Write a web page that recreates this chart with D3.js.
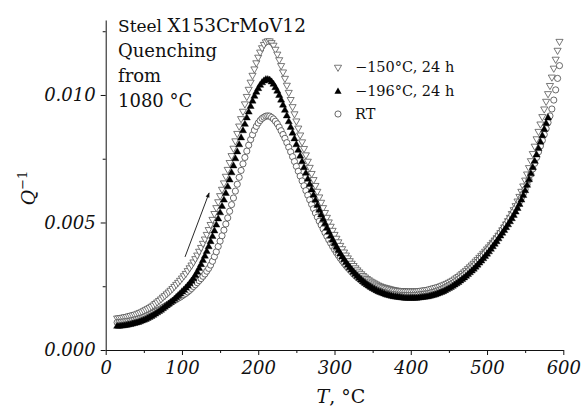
<!DOCTYPE html>
<html><head><meta charset="utf-8">
<script src="https://cdn.jsdelivr.net/npm/d3@7"></script>
<style>
body{margin:0;background:#fff}
svg{display:block}
text{font-family:"DejaVu Serif",serif;fill:#111}
</style>
</head><body>
<svg id="c" width="584" height="408"></svg>
<script>
// Temperature, °C
const temps = [
15,17.5,20,22.5,25,27.5,30,32.5,35,37.5,40,42.5,45,47.5,50,52.5,55,57.5,60,62.5,
65,67.5,70,72.5,75,77.5,80,82.5,85,87.5,90,92.5,95,97.5,100,102.5,105,107.5,110,112.5,
115,117.5,120,122.5,125,127.5,130,132.5,135,137.5,140,142.5,145,147.5,150,152.5,155,157.5,160,162.5,
165,167.5,170,172.5,175,177.5,180,182.5,185,187.5,190,192.5,195,197.5,200,202.5,205,207.5,210,212.5,
215,217.5,220,222.5,225,227.5,230,232.5,235,237.5,240,242.5,245,247.5,250,252.5,255,257.5,260,262.5,
265,267.5,270,272.5,275,277.5,280,282.5,285,287.5,290,292.5,295,297.5,300,302.5,305,307.5,310,312.5,
315,317.5,320,322.5,325,327.5,330,332.5,335,337.5,340,342.5,345,347.5,350,352.5,355,357.5,360,362.5,
365,367.5,370,372.5,375,377.5,380,382.5,385,387.5,390,392.5,395,397.5,400,402.5,405,407.5,410,412.5,
415,417.5,420,422.5,425,427.5,430,432.5,435,437.5,440,442.5,445,447.5,450,452.5,455,457.5,460,462.5,
465,467.5,470,472.5,475,477.5,480,482.5,485,487.5,490,492.5,495,497.5,500,502.5,505,507.5,510,512.5,
515,517.5,520,522.5,525,527.5,530,532.5,535,537.5,540,542.5,545,547.5,550,552.5,555,557.5,560,562.5,
565,567.5,570,572.5,575,577.5,580,582.5,585,587.5,590,592.5,595];

// Q^-1 in units of 10^-3
const q150 = [ // −150°C, 24 h  (open down-triangles)
1.25,1.26,1.27,1.28,1.30,1.31,1.33,1.35,1.37,1.39,1.41,1.44,1.47,1.50,1.54,1.58,1.62,1.66,1.71,1.76,
1.82,1.88,1.94,2.00,2.07,2.13,2.20,2.27,2.34,2.41,2.49,2.57,2.65,2.73,2.82,2.91,3.00,3.11,3.22,3.33,
3.45,3.58,3.72,3.87,4.02,4.18,4.35,4.53,4.72,4.92,5.12,5.35,5.58,5.81,6.05,6.30,6.55,6.81,7.08,7.35,
7.62,7.91,8.20,8.49,8.78,9.07,9.36,9.65,9.94,10.22,10.50,10.77,11.02,11.26,11.48,11.68,11.85,11.98,12.08,12.12,
12.12,12.05,11.95,11.79,11.60,11.38,11.15,10.90,10.65,10.38,10.10,9.82,9.54,9.26,8.98,8.70,8.43,8.16,7.90,7.65,
7.40,7.16,6.92,6.68,6.45,6.22,6.00,5.79,5.58,5.39,5.20,5.02,4.85,4.69,4.53,4.38,4.24,4.10,3.97,3.84,
3.72,3.61,3.50,3.40,3.31,3.22,3.14,3.06,2.99,2.92,2.86,2.80,2.75,2.70,2.66,2.62,2.58,2.54,2.51,2.48,
2.46,2.44,2.42,2.40,2.38,2.36,2.35,2.34,2.33,2.32,2.32,2.31,2.31,2.31,2.31,2.31,2.31,2.31,2.32,2.33,
2.34,2.35,2.36,2.37,2.39,2.41,2.43,2.45,2.47,2.49,2.52,2.55,2.58,2.61,2.65,2.69,2.73,2.78,2.83,2.88,
2.94,3.00,3.06,3.12,3.19,3.26,3.33,3.40,3.48,3.55,3.63,3.71,3.79,3.87,3.96,4.04,4.13,4.22,4.31,4.40,
4.50,4.60,4.71,4.82,4.94,5.07,5.20,5.35,5.50,5.66,5.84,6.02,6.22,6.43,6.66,6.90,7.15,7.42,7.70,7.99,
8.28,8.57,8.86,9.15,9.45,9.75,10.05,10.37,10.70,11.05,11.40,11.75,12.10];

const q196 = [ // −196°C, 24 h  (filled up-triangles)
0.93,0.93,0.94,0.95,0.96,0.97,0.99,1.00,1.02,1.04,1.06,1.08,1.11,1.14,1.17,1.20,1.24,1.28,1.32,1.36,
1.41,1.46,1.51,1.56,1.62,1.68,1.74,1.80,1.86,1.92,1.99,2.06,2.13,2.20,2.28,2.35,2.43,2.51,2.60,2.70,
2.80,2.92,3.05,3.20,3.35,3.51,3.68,3.86,4.05,4.25,4.45,4.67,4.90,5.14,5.38,5.63,5.88,6.14,6.40,6.67,
6.95,7.22,7.50,7.77,8.05,8.32,8.60,8.85,9.10,9.33,9.55,9.76,9.95,10.11,10.25,10.38,10.48,10.55,10.60,10.60,
10.58,10.51,10.42,10.29,10.15,9.98,9.80,9.60,9.40,9.18,8.95,8.73,8.50,8.28,8.05,7.83,7.60,7.38,7.15,6.93,
6.70,6.49,6.28,6.07,5.87,5.67,5.48,5.30,5.12,4.95,4.78,4.62,4.46,4.31,4.17,4.03,3.90,3.77,3.65,3.54,
3.43,3.33,3.23,3.14,3.05,2.97,2.89,2.82,2.75,2.68,2.62,2.56,2.51,2.46,2.41,2.37,2.33,2.29,2.26,2.23,
2.20,2.17,2.15,2.13,2.11,2.09,2.08,2.07,2.06,2.05,2.04,2.03,2.03,2.03,2.03,2.03,2.03,2.03,2.04,2.05,
2.06,2.07,2.08,2.09,2.11,2.13,2.15,2.17,2.20,2.23,2.26,2.29,2.33,2.37,2.41,2.45,2.50,2.55,2.60,2.65,
2.71,2.77,2.83,2.89,2.96,3.03,3.10,3.17,3.25,3.33,3.41,3.49,3.58,3.67,3.76,3.85,3.95,4.05,4.15,4.25,
4.36,4.47,4.58,4.69,4.80,4.91,5.03,5.15,5.28,5.41,5.55,5.71,5.88,6.06,6.25,6.46,6.68,6.91,7.15,7.40,
7.65,7.90,8.15,8.40,8.65,8.88,9.10,null,null,null,null,null,null];

const qRT = [ // RT  (open circles)
1.08,1.08,1.09,1.10,1.11,1.12,1.13,1.14,1.16,1.18,1.20,1.22,1.24,1.26,1.29,1.32,1.35,1.38,1.42,1.46,
1.50,1.54,1.58,1.62,1.67,1.71,1.76,1.80,1.85,1.89,1.94,1.98,2.03,2.07,2.12,2.17,2.22,2.28,2.34,2.41,
2.49,2.56,2.64,2.72,2.80,2.89,2.98,3.09,3.20,3.33,3.48,3.66,3.85,4.06,4.27,4.48,4.70,4.94,5.18,5.44,
5.70,5.96,6.23,6.50,6.77,7.04,7.30,7.55,7.80,8.03,8.25,8.44,8.62,8.77,8.90,9.00,9.08,9.13,9.17,9.18,
9.17,9.12,9.06,8.97,8.87,8.74,8.60,8.45,8.30,8.13,7.95,7.77,7.58,7.39,7.20,7.01,6.82,6.63,6.44,6.25,
6.07,5.89,5.71,5.54,5.37,5.21,5.05,4.90,4.75,4.60,4.46,4.32,4.19,4.06,3.94,3.82,3.71,3.60,3.50,3.40,
3.31,3.22,3.14,3.06,2.98,2.91,2.84,2.78,2.72,2.66,2.61,2.56,2.51,2.47,2.43,2.39,2.36,2.33,2.30,2.27,
2.25,2.23,2.21,2.19,2.18,2.17,2.16,2.15,2.15,2.14,2.14,2.14,2.14,2.14,2.14,2.14,2.15,2.15,2.16,2.17,
2.18,2.19,2.20,2.21,2.23,2.25,2.27,2.29,2.32,2.35,2.38,2.41,2.45,2.49,2.53,2.57,2.62,2.67,2.72,2.77,
2.83,2.89,2.95,3.01,3.08,3.15,3.22,3.29,3.37,3.45,3.53,3.61,3.70,3.79,3.88,3.97,4.07,4.17,4.27,4.37,
4.48,4.59,4.70,4.81,4.93,5.05,5.17,5.29,5.42,5.55,5.68,5.82,5.97,6.13,6.30,6.49,6.68,6.89,7.10,7.32,
7.55,7.77,8.00,8.22,8.45,8.68,8.92,9.18,9.45,9.80,10.20,10.65,11.15];

const xTicks = [0,100,200,300,400,500,600];
const xMinor = [50,150,250,350,450,550];
const yTicks = [0,5,10];          // ×10^-3
const yMinor = [2.5,7.5,12.5];
const yTickLabels = ["0.000","0.005","0.010"];
const seriesNames = ["\u2212150\u00B0C, 24 h","\u2212196\u00B0C, 24 h","RT"];
const titleLines = ["Quenching","from","1080 \u00B0C"];
const arrowFrom = [104, 3.65], arrowTo = [135.6, 6.16]; // data coords (T, Q×10^3)

const svg = d3.select("#c");
svg.append("rect").attr("width",584).attr("height",408).attr("fill","#fff");

const x = d3.scaleLinear().domain([0,600]).range([105.7,563.3]);
const y = d3.scaleLinear().domain([0,12.94]).range([350,20]);

function styleAxis(g){
  g.selectAll("path,line").attr("stroke","#111").attr("stroke-width",1);
  g.selectAll("text").attr("font-family","DejaVu Serif").attr("font-style","italic")
   .attr("font-size",18).attr("fill","#111");
}
// x axis
const gx = svg.append("g").attr("transform","translate(0,350)")
  .call(d3.axisBottom(x).tickValues(xTicks).tickSize(5).tickSizeOuter(0).tickPadding(6).tickFormat(d3.format("d")));
styleAxis(gx);
const gxm = svg.append("g").attr("transform","translate(0,350)")
  .call(d3.axisBottom(x).tickValues(xMinor).tickSize(3).tickSizeOuter(0).tickFormat(""));
gxm.select(".domain").remove(); styleAxis(gxm);
// y axis
const gy = svg.append("g").attr("transform","translate(105.7,0)")
  .call(d3.axisLeft(y).tickValues(yTicks).tickSize(5).tickSizeOuter(0).tickPadding(5)
    .tickFormat((d,i)=>yTickLabels[i]));
styleAxis(gy);
const gym = svg.append("g").attr("transform","translate(105.7,0)")
  .call(d3.axisLeft(y).tickValues(yMinor).tickSize(3).tickSizeOuter(0).tickFormat(""));
gym.select(".domain").remove(); styleAxis(gym);

// series
const triPath = d3.symbol().type(d3.symbolTriangle).size(22)();
const circPath = d3.symbol().type(d3.symbolCircle).size(30)();
function pts(vals){ return temps.map((t,i)=>({t, v: vals[i]})).filter(d=>d.v!=null); }

svg.append("g").selectAll("path").data(pts(q150)).join("path")
  .attr("d",triPath)
  .attr("transform",d=>`translate(${x(d.t)},${y(d.v)}) rotate(180)`)
  .attr("fill","#fff").attr("stroke","#555").attr("stroke-width",0.8);

svg.append("g").selectAll("path").data(pts(qRT)).join("path")
  .attr("d",circPath)
  .attr("transform",d=>`translate(${x(d.t)},${y(d.v)})`)
  .attr("fill","#fff").attr("stroke","#444").attr("stroke-width",0.8);

svg.append("g").selectAll("path").data(pts(q196)).join("path")
  .attr("d",triPath)
  .attr("transform",d=>`translate(${x(d.t)},${y(d.v)})`)
  .attr("fill","#000").attr("stroke","#000").attr("stroke-width",0.4);

// arrow
const defs = svg.append("defs");
defs.append("marker").attr("id","ah").attr("viewBox","0 0 10 10").attr("refX",9).attr("refY",5)
  .attr("markerWidth",7).attr("markerHeight",5).attr("markerUnits","userSpaceOnUse").attr("orient","auto")
  .append("path").attr("d","M0,1 L10,5 L0,9 Z").attr("fill","#111");
svg.append("line")
  .attr("x1",x(arrowFrom[0])).attr("y1",y(arrowFrom[1]))
  .attr("x2",x(arrowTo[0])).attr("y2",y(arrowTo[1]))
  .attr("stroke","#111").attr("stroke-width",0.9).attr("marker-end","url(#ah)");

// title block
const tt = svg.append("text").attr("x",118).attr("y",31.7).attr("font-size",18);
tt.append("tspan").text("Steel ").attr("font-size",17);
tt.append("tspan").text("X153CrMoV12").attr("font-size",18.5);
titleLines.forEach((s,i)=>{
  svg.append("text").attr("x",118).attr("y",56.7+25*i).attr("font-size",18).text(s);
});

// legend
const legY = [67.3, 91.7, 114];
const lg = svg.append("g");
lg.append("path").attr("d",triPath).attr("transform",`translate(338,${legY[0]}) rotate(180)`)
  .attr("fill","#fff").attr("stroke","#555").attr("stroke-width",0.8);
lg.append("path").attr("d",triPath).attr("transform",`translate(338,${legY[1]})`)
  .attr("fill","#000");
lg.append("path").attr("d",circPath).attr("transform",`translate(338,${legY[2]})`)
  .attr("fill","#fff").attr("stroke","#444").attr("stroke-width",0.8);
seriesNames.forEach((s,i)=>{
  lg.append("text").attr("x",355).attr("y",legY[i]+4.5).attr("font-size",14.5).text(s);
});

// axis titles
const xl = svg.append("text").attr("x",341).attr("y",403).attr("text-anchor","middle").attr("font-size",19);
xl.append("tspan").text("T").attr("font-style","italic");
xl.append("tspan").text(", \u00B0C");

const yl = svg.append("text").attr("transform","translate(35,188) rotate(-90)")
  .attr("text-anchor","middle").attr("font-size",19);
yl.append("tspan").text("Q").attr("font-style","italic");
yl.append("tspan").text("\u22121").attr("font-size",13).attr("dy",-8);
</script>
</body></html>
